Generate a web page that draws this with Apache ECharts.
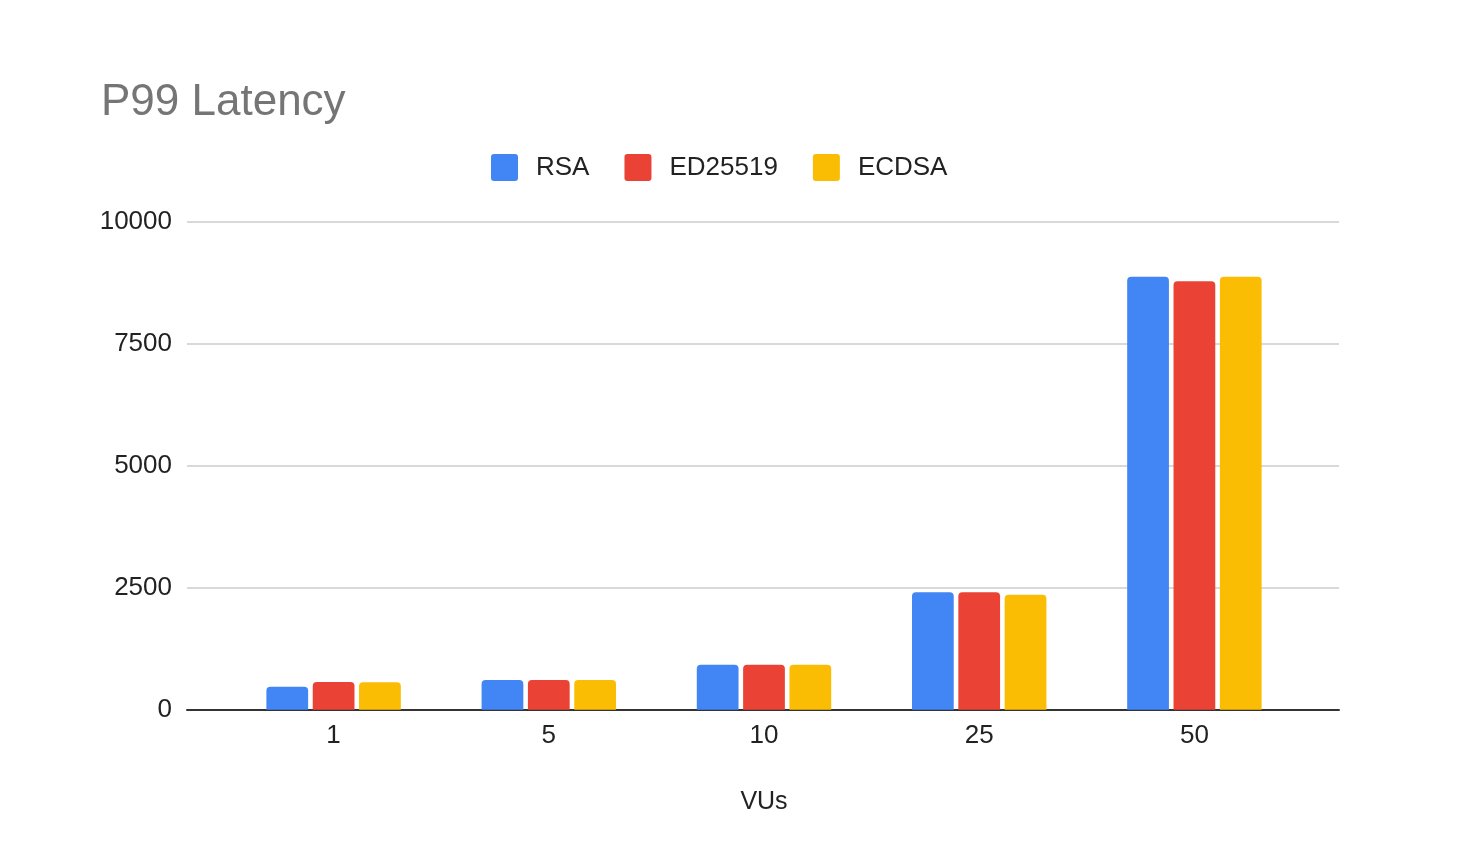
<!DOCTYPE html>
<html>
<head>
<meta charset="utf-8">
<script src="https://cdn.jsdelivr.net/npm/echarts@6/dist/echarts.min.js"></script>
<style>
  html, body { margin: 0; padding: 0; background: #fff; }
  #chart { width: 1482px; height: 846px; }
</style>
</head>
<body>
<div id="chart"></div>
<script>
// VUs categories
const vus = ['1', '5', '10', '25', '50'];
// P99 latency per key type
const rsa = [471, 609, 922, 2406, 8873];
const ed25519 = [568, 609, 922, 2406, 8779];
const ecdsa = [561, 609, 922, 2357, 8873];
// y axis ticks
const yMin = 0, yMax = 10000, yStep = 2500;

const font = '"Liberation Sans", Arial, sans-serif';
// square legend marker with small rounded corners
const legendIcon = 'path://M3,0 H24 Q27,0 27,3 V24 Q27,27 24,27 H3 Q0,27 0,24 V3 Q0,0 3,0 Z';
let chart = echarts.init(document.getElementById('chart'));

function barSeries(name, data, color) {
    return {
        name: name,
        type: 'bar',
        xAxisIndex: 1,
        yAxisIndex: 1,
        data: data,
        barWidth: '19.4%',
        barGap: '11%',
        itemStyle: { color: color, borderRadius: [4, 4, 0, 0] }
    };
}

let option = {
    animation: false,
    backgroundColor: '#fff',
    title: {
        text: 'P99 Latency',
        left: 96,
        top: 76,
        textStyle: { fontFamily: font, fontSize: 44, fontWeight: 'normal', color: '#757575' }
    },
    legend: {
        left: 486,
        top: 149,
        icon: legendIcon,
        itemWidth: 27,
        itemHeight: 27,
        itemGap: 35,
        textStyle: { fontFamily: font, fontSize: 26, color: '#222', padding: [0, 0, 0, 13] }
    },
    grid: [
        // grid for split lines and the baseline
        { left: 187, right: 143, top: 221.7, bottom: 136.3 },
        // grid for the bars
        { left: 226, right: 180, top: 221.7, bottom: 136.3 }
    ],
    xAxis: [
        {
            type: 'value', gridIndex: 0, min: 0, max: 1,
            axisLine: { show: true, lineStyle: { color: '#333', width: 2 } },
            axisTick: { show: false },
            axisLabel: { show: false },
            splitLine: { show: false }
        },
        {
            type: 'category', gridIndex: 1, data: vus,
            axisLine: { show: false },
            axisTick: { show: false },
            axisLabel: { fontFamily: font, fontSize: 26, color: '#222', margin: 13 },
            name: 'VUs',
            nameLocation: 'middle',
            nameGap: 80,
            nameTextStyle: { fontFamily: font, fontSize: 25, color: '#222' }
        }
    ],
    yAxis: [
        {
            type: 'value', gridIndex: 0, min: yMin, max: yMax, interval: yStep,
            axisLine: { show: false },
            axisTick: { show: false },
            axisLabel: {
                fontFamily: font, fontSize: 26, color: '#222', margin: 15,
                formatter: function (v) { return String(v); }
            },
            splitLine: { lineStyle: { color: '#cccccc', width: 1.5 } }
        },
        {
            type: 'value', gridIndex: 1, min: yMin, max: yMax, interval: yStep,
            show: false,
            splitLine: { show: false }
        }
    ],
    series: [
        barSeries('RSA', rsa, '#4285F4'),
        barSeries('ED25519', ed25519, '#EA4335'),
        barSeries('ECDSA', ecdsa, '#FBBC04')
    ]
};
chart.setOption(option);
</script>
</body>
</html>
